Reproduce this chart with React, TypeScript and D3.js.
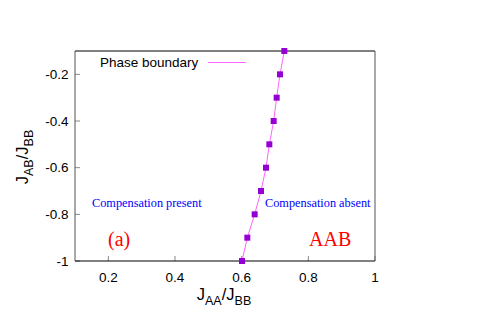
import * as d3 from 'd3'

const jAA = [0.728, 0.715, 0.705, 0.696, 0.683, 0.673, 0.658, 0.639, 0.617, 0.601]
const jAB = [-0.1, -0.2, -0.3, -0.4, -0.5, -0.6, -0.7, -0.8, -0.9, -1.0]
const xTicks = [0.2, 0.4, 0.6, 0.8, 1]
const yTicks = [-0.2, -0.4, -0.6, -0.8, -1]

export default function App() {
  const W = 500, H = 314
  const x = d3.scaleLinear().domain([0.1, 1]).range([75, 375])
  const y = d3.scaleLinear().domain([-1, -0.1]).range([261, 51])
  const pts = jAA.map((v, i) => [v, jAB[i]] as [number, number])
  const line = d3.line<[number, number]>().x(d => x(d[0])).y(d => y(d[1]))
  const sans = "'Liberation Sans', Arial, sans-serif"
  const serif = "'Liberation Serif', 'Times New Roman', serif"

  return (
    <svg width={W} height={H} style={{ position: 'absolute', left: 0, top: 0 }}>
      <rect width={W} height={H} fill="white" />
      {xTicks.map(t => (
        <g key={'x' + t}>
          <line x1={x(t)} x2={x(t)} y1={261} y2={256} stroke="#888" />
          <text x={x(t)} y={281.5} textAnchor="middle" fontFamily={sans} fontSize={13.5}>{t}</text>
        </g>
      ))}
      {yTicks.map(t => (
        <g key={'y' + t}>
          <line x1={75} x2={80} y1={y(t)} y2={y(t)} stroke="#888" />
          <text x={68.5} y={y(t) + 4.8} textAnchor="end" fontFamily={sans} fontSize={13.5}>{t}</text>
        </g>
      ))}
      <line x1={75} x2={375} y1={51} y2={51} stroke="black" />
      <line x1={75} x2={375} y1={261} y2={261} stroke="black" />
      <line x1={75} x2={75} y1={51} y2={261} stroke="#555" />
      <line x1={375} x2={375} y1={51} y2={261} stroke="#555" />

      <path d={line(pts) ?? ''} fill="none" stroke="#ff66ff" strokeWidth={1} />
      {pts.map((p, i) => (
        <rect key={i} x={x(p[0]) - 3} y={y(p[1]) - 3} width={6} height={6} fill="#9400d3" />
      ))}

      <text x={100} y={67} fontFamily={sans} fontSize={13.5}>Phase boundary</text>
      <line x1={208} x2={246} y1={62.5} y2={62.5} stroke="#ff66ff" />

      <text x={92} y={207} fontFamily={serif} fontSize={12.3} fill="blue">Compensation present</text>
      <text x={265} y={207} fontFamily={serif} fontSize={12.3} fill="blue">Compensation absent</text>
      <text x={108} y={245.5} fontFamily={serif} fontSize={20} fill="red">(a)</text>
      <text x={309} y={245.5} fontFamily={serif} fontSize={20} fill="red">AAB</text>

      <text x={224} y={300} textAnchor="middle" fontFamily={sans} fontSize={16.5}>
        J<tspan fontSize={12.5} dy={4.5}>AA</tspan><tspan dy={-4.5}>/J</tspan><tspan fontSize={12.5} dy={4.5}>BB</tspan>
      </text>
      <text transform="translate(28,157) rotate(-90)" textAnchor="middle" fontFamily={sans} fontSize={16.5}>
        J<tspan fontSize={12.5} dy={4.5}>AB</tspan><tspan dy={-4.5}>/J</tspan><tspan fontSize={12.5} dy={4.5}>BB</tspan>
      </text>
    </svg>
  )
}
